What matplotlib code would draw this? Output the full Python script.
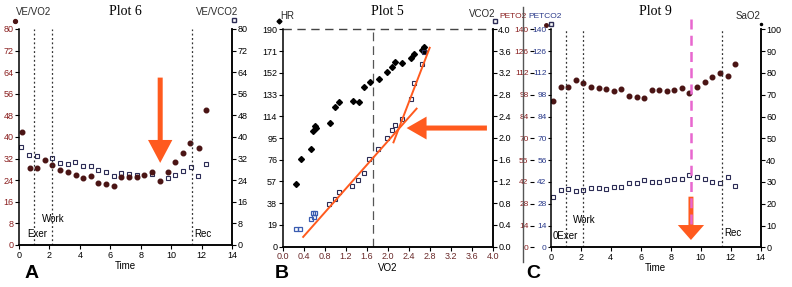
import numpy as np
import matplotlib
matplotlib.use("Agg")
import matplotlib.pyplot as plt
from matplotlib.lines import Line2D

plt.rcParams['font.family'] = ['Liberation Sans', 'DejaVu Sans']

# ---------------- Plot 6 (panel A) ----------------
a_t_vo2 = [0.2, 0.72, 1.18, 1.71, 2.19, 2.7, 3.22, 3.73, 4.21, 4.71, 5.22, 5.72, 6.23,
           6.73, 7.25, 7.74, 8.24, 8.75, 9.26, 9.78, 10.28, 10.79, 11.27, 11.8, 12.28]
a_ve_vo2 = [42, 28.6, 28.6, 31.5, 29.7, 27.8, 26.9, 25.9, 24.7, 25.7, 22.8, 22.5, 21.9,
            25.3, 25.3, 25.1, 25.9, 26.9, 23.8, 26.9, 30.9, 34.2, 37.7, 36.0, 50]
a_t_vco2 = [0.13, 0.68, 1.16, 2.19, 2.7, 3.2, 3.7, 4.21, 4.7, 5.22, 5.72, 6.23, 6.73,
            7.25, 7.74, 8.74, 9.78, 10.26, 10.79, 11.29, 11.78, 12.28]
a_ve_vco2 = [36.4, 33.3, 32.8, 32.1, 30.5, 30.1, 30.7, 29.3, 29.1, 27.8, 27.2, 25.6, 26.8,
             26.4, 25.9, 26.4, 25.0, 25.9, 27.5, 29.0, 25.6, 30.0]

# ---------------- Plot 5 (panel B) ----------------
b_vo2_hr = [0.25, 0.34, 0.54, 0.58, 0.61, 0.64, 0.90, 1.0, 1.08, 1.33, 1.45, 1.55, 1.66,
            1.83, 1.99, 2.09, 2.13, 2.28, 2.44, 2.5, 2.66, 2.69, 2.7]
b_hr = [54.6, 76.5, 85.5, 101.3, 105.7, 104, 108, 122, 126.4, 127, 126.4, 139.8, 144,
        147, 153, 157, 161.4, 160.6, 165, 168.5, 172.2, 174.6, 171]
b_vo2_co2 = [0.25, 0.33, 0.53, 0.57, 0.59, 0.615, 0.89, 1.0, 1.07, 1.32, 1.44, 1.55, 1.65,
             1.81, 1.98, 2.09, 2.13, 2.27, 2.44, 2.5, 2.65, 2.69]
b_vco2 = [0.32, 0.32, 0.51, 0.62, 0.55, 0.62, 0.79, 0.88, 1.0, 1.12, 1.22, 1.36, 1.61,
          1.80, 2.0, 2.15, 2.24, 2.35, 2.72, 3.02, 3.36, 3.58]
b_fit1_x = [0.39, 2.55]
b_fit1_y = [0.18, 2.54]
b_fit2_x = [2.11, 2.8]
b_fit2_y = [1.92, 3.66]

# ---------------- Plot 9 (panel C) ----------------
c_t = [0.13, 0.69, 1.17, 1.69, 2.17, 2.69, 3.2, 3.7, 4.22, 4.71, 5.22, 5.73, 6.24,
       6.75, 7.24, 7.73, 8.22, 8.73, 9.24, 9.75, 10.27, 10.77, 11.29, 11.8, 12.31]
c_peto2 = [93.9, 102.7, 102.7, 107.4, 105.7, 102.7, 102.3, 101.4, 100.1, 101.4, 97.1,
           96.3, 95.9, 101, 101, 100.1, 101, 102.5, 99.3, 102.7, 106.3, 109.5, 112.1,
           110.2, 117.7]
c_petco2 = [32.5, 36.8, 37.6, 36.3, 36.8, 37.9, 37.9, 37.6, 38.9, 38.9, 41.1, 41.1, 43.2,
            41.9, 41.9, 43.2, 43.6, 43.6, 46.2, 45.0, 43.6, 41.7, 41.1, 45.3, 39.6]

phase_lines = [1.0, 2.15, 11.4]

DOT = '#4a1414'
SQ = '#2c2c55'
ORANGE = '#ff5a1e'
RED_LBL = '#8a1f1f'
BLUE_LBL = '#2a3a8a'
TS = 6.5
MS_DOT = 3.3
MS_SQ = 3.1

fig = plt.figure(figsize=(7.92, 2.87), dpi=100)


def style_axes(ax):
    ax.spines['top'].set_visible(False)
    for s in ['left', 'right', 'bottom']:
        ax.spines[s].set_linewidth(1.1)
    ax.tick_params(direction='out', length=3, width=0.8, labelsize=TS, pad=1)


def phase_marks(ax, work_y, exer_y, rec_y, exer_x=0.53, exer_txt='Exer'):
    for x in phase_lines:
        ax.axvline(x, color='#333333', lw=0.9, ls=(0, (1.5, 2)))
    ax.text(exer_x, exer_y, exer_txt, fontsize=7)
    ax.text(1.5, work_y, 'Work', fontsize=7)
    ax.text(11.55, rec_y, 'Rec', fontsize=7)


# ---------- Panel A ----------
axA = fig.add_axes([19 / 792, 1 - 245 / 287, 213 / 792, 216 / 287])
style_axes(axA)
axA.set_xlim(0, 14)
axA.set_ylim(0, 80)
axA.set_xticks(range(0, 15, 2))
axA.set_yticks(range(0, 81, 8))
axA.tick_params(axis='y', labelcolor=RED_LBL)
axA2 = axA.twinx()
axA2.set_ylim(0, 80)
axA2.set_yticks(range(0, 81, 8))
style_axes(axA2)
axA2.spines['left'].set_visible(False)
axA.plot(a_t_vco2, a_ve_vco2, 's', ms=MS_SQ, mfc='none', mec=SQ, mew=0.8)
axA.plot(a_t_vo2, a_ve_vo2, 'o', ms=MS_DOT, color=DOT)
phase_marks(axA, 8.5, 3, 3)
axA.set_xlabel('Time', fontsize=7, labelpad=1)
axA.set_title('Plot 6', fontsize=10, family='Liberation Serif', pad=10)
axA.plot([-0.25], [83], 'o', ms=2.8, color=DOT, clip_on=False)
axA.text(-0.2, 85, 'VE/VO2', fontsize=7, color='#2a2a2a')
axA2.plot([14.1], [83.5], 's', ms=2.5, mfc='none', mec=SQ, clip_on=False)
axA2.text(11.6, 85, 'VE/VCO2', fontsize=7, color='#2a2a2a')
axA.arrow(9.28, 62, 0, -31.6, width=0.33, head_width=1.6, head_length=8.5,
          length_includes_head=True, color=ORANGE, lw=0, zorder=5)

# ---------- Panel B ----------
axB = fig.add_axes([282.7 / 792, 1 - 246.7 / 287, 210 / 792, 217.4 / 287])
style_axes(axB)
axB.set_xlim(0, 4)
axB.set_ylim(0, 190)
axB.set_xticks(np.arange(0, 4.01, 0.4))
axB.set_xticklabels([f'{v:.1f}' for v in np.arange(0, 4.01, 0.4)])
axB.tick_params(axis='x', labelcolor='#6a2a2a')
axB.set_yticks(range(0, 191, 19))
axB2 = axB.twinx()
style_axes(axB2)
axB2.spines['left'].set_visible(False)
axB2.set_ylim(0, 4)
axB2.set_yticks(np.arange(0, 4.01, 0.4))
axB2.set_yticklabels([f'{v:.1f}' for v in np.arange(0, 4.01, 0.4)])
axB.axhline(190, color='#444444', lw=1.0, ls=(0, (6, 4)), clip_on=False)
axB.axvline(1.72, color='#555555', lw=0.9, ls=(0, (7, 4)))
axB.plot(b_vo2_hr, b_hr, 'D', ms=3.0, color='black')
axB2.plot(b_vo2_co2[:6], b_vco2[:6], 's', ms=MS_SQ, mfc='none', mec='#3a5cb0', mew=0.9)
axB2.plot(b_vo2_co2[6:], b_vco2[6:], 's', ms=MS_SQ, mfc='none', mec=SQ, mew=0.8)
axB2.plot(b_fit1_x, b_fit1_y, color=ORANGE, lw=1.4)
axB2.plot(b_fit2_x, b_fit2_y, color=ORANGE, lw=1.4)
axB.set_xlabel('VO2', fontsize=7, labelpad=1)
axB.set_title('Plot 5', fontsize=10, family='Liberation Serif', pad=10)
axB.plot([-0.08], [197], 'D', ms=2.5, color='black', clip_on=False)
axB.text(-0.05, 199, 'HR', fontsize=7, color='#2a2a2a')
axB2.plot([4.05], [4.15], 's', ms=2.5, mfc='none', mec=SQ, clip_on=False)
axB2.text(3.55, 4.22, 'VCO2', fontsize=7, color='#2a2a2a')
axB.arrow(3.89, 103.7, -1.53, 0, width=4.4, head_width=20, head_length=0.38,
          length_includes_head=True, color=ORANGE, lw=0, zorder=5)

# ---------- Panel C ----------
axC = fig.add_axes([550.7 / 792, 1 - 247.3 / 287, 210 / 792, 218 / 287])
style_axes(axC)
axC.set_xlim(0, 14)
axC.set_ylim(0, 140)
axC.set_xticks(range(0, 15, 2))
axC.set_yticks(range(0, 141, 14))
axC.tick_params(axis='y', labelcolor=BLUE_LBL, labelsize=6, length=2)
axCo = axC.twinx()
axCo.set_ylim(0, 140)
axCo.yaxis.tick_left()
axCo.set_yticks(range(0, 141, 14))
for s in ['top', 'right', 'bottom']:
    axCo.spines[s].set_visible(False)
axCo.spines['left'].set_position(('outward', 12))
axCo.spines['left'].set_visible(False)
axCo.tick_params(axis='y', direction='out', length=3, width=0.8, labelsize=6, pad=1,
                 labelcolor=RED_LBL)
axC3 = axC.twinx()
style_axes(axC3)
axC3.spines['left'].set_visible(False)
axC3.set_ylim(0, 100)
axC3.set_yticks(range(0, 101, 10))
axC.plot(c_t, c_petco2, 's', ms=MS_SQ, mfc='none', mec=SQ, mew=0.8)
axC.plot(c_t, c_peto2, 'o', ms=MS_DOT, color=DOT)
phase_marks(axC, 15.6, 5.3, 7.3, exer_x=0.1, exer_txt='0Exer')
axC.set_xlabel('Time', fontsize=7, labelpad=1)
axC.set_title('Plot 9', fontsize=10, family='Liberation Serif', pad=10)
axC.text(-3.45, 147, 'PETO2', fontsize=6, color=RED_LBL)
axC.text(-1.5, 147, 'PETCO2', fontsize=6, color=BLUE_LBL)
axC.plot([-0.3], [143], 'o', ms=2.5, color=DOT, clip_on=False)
axC.plot([0.05], [143.5], 's', ms=2.3, mfc='none', mec=SQ, clip_on=False)
axC3.text(12.3, 104.5, 'SaO2', fontsize=7, color='#2a2a2a')
axC3.plot([14.0], [102.5], 'o', ms=1.5, color='black', clip_on=False)
axC.add_patch(plt.Rectangle((8.4, 4), 1.9, 31, color='white', zorder=4))
axC.arrow(9.35, 32.5, 0, -27.8, width=0.33, head_width=1.75, head_length=9.6,
          length_includes_head=True, color=ORANGE, lw=0, zorder=5)
axC.plot([9.35, 9.35], [146.6, 14.3], color='#e867cf', lw=1.8, ls=(0, (4, 2.5)),
         zorder=6, clip_on=False)

fig.add_artist(Line2D([523 / 792, 523 / 792], [1 - 262 / 287, 1 - 7 / 287],
                      color='#555555', lw=1.0))

# panel letters
fig.text(25 / 792, 1 - 278 / 287, 'A', fontsize=14, fontweight='bold')
fig.text(275 / 792, 1 - 278 / 287, 'B', fontsize=14, fontweight='bold')
fig.text(526 / 792, 1 - 278 / 287, 'C', fontsize=14, fontweight='bold')

fig.savefig('out.png', dpi=100)
